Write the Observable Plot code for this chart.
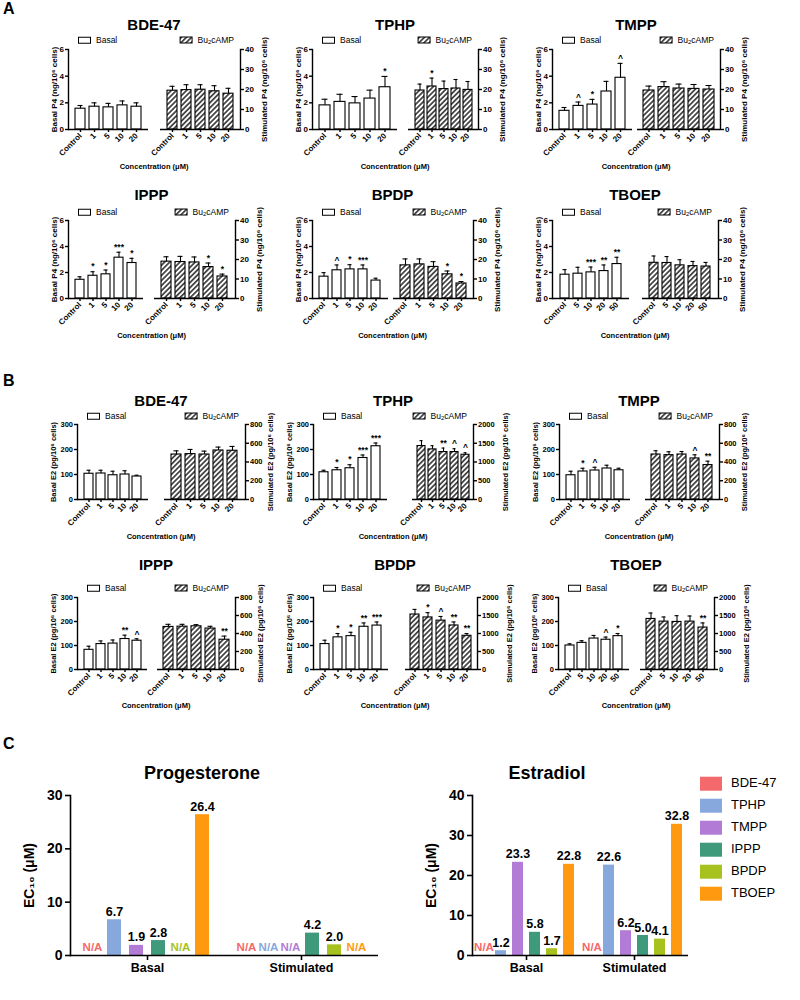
<!DOCTYPE html>
<html><head><meta charset="utf-8">
<script src="https://cdn.jsdelivr.net/npm/d3@7"></script>
<script src="https://cdn.jsdelivr.net/npm/@observablehq/plot@0.6"></script>
<style>
body{margin:0;background:#fff;font-family:Arial,"Liberation Sans",Helvetica,sans-serif;color:#000;}
#root{position:relative;width:800px;height:1000px;overflow:hidden;background:#fff;}
.t{position:absolute;white-space:nowrap;line-height:1;}
</style></head><body>
<svg width="0" height="0" style="position:absolute"><defs>
<pattern id="hatch" patternUnits="userSpaceOnUse" width="3.6" height="3.6" patternTransform="rotate(45)">
<rect width="3.6" height="3.6" fill="white"/><line x1="1.8" y1="0" x2="1.8" y2="3.6" stroke="black" stroke-width="1.3"/>
</pattern></defs></svg>
<div id="root"></div>
<script>
// ---------- DATA ----------
const chemicals = ["BDE-47","TPHP","TMPP","IPPP","BPDP","TBOEP"];
const concStd = ["Control","1","5","10","20"];
const concTBOEP = ["Control","5","10","20","50"];

const p4BasalMean = [[1.56,1.71,1.66,1.81,1.71],[1.81,2.07,1.96,2.32,3.17],[1.40,1.77,1.87,2.85,3.88],[1.44,1.75,1.86,3.14,2.73],[1.68,2.17,2.24,2.24,1.38],[1.83,1.91,2.01,2.11,2.65]];
const p4BasalSem = [[0.24,0.29,0.30,0.33,0.29],[0.46,0.57,0.51,0.63,0.81],[0.25,0.29,0.39,0.76,1.08],[0.23,0.31,0.33,0.42,0.36],[0.31,0.41,0.36,0.34,0.18],[0.39,0.49,0.41,0.47,0.52]];
const p4BasalSig = [["","","","",""],["","","","","*"],["","^","*","","^"],["","*","*","***","*"],["","^","*","***",""],["","","***","**","**"]];
const p4StimMean = [[19.4,19.7,19.9,19.1,17.9],[19.5,21.5,20.2,20.5,19.8],[19.5,21.2,20.5,20.3,20.0],[18.9,18.7,18.5,16.1,11.3],[17.0,17.5,16.2,12.4,7.7],[18.3,18.2,17.0,16.6,16.4]];
const p4StimSem = [[2.2,2.7,2.5,2.8,2.7],[3.2,4.2,4.0,4.5,4.2],[2.2,2.7,2.2,2.2,2.0],[2.5,2.9,2.8,2.1,1.2],[3.3,2.8,2.7,1.7,1.0],[3.5,3.3,2.9,2.4,2.1]];
const p4StimSig = [["","","","",""],["","*","","",""],["","","","",""],["","","","*","*"],["","","","*","*"],["","","","",""]];

const e2BasalMean = [[103,104,97,100,92],[109,117,125,166,213],[97,112,116,124,117],[82,106,108,127,120],[106,134,139,178,183],[100,111,129,124,139]];
const e2BasalSem = [[14,13,16,15,5],[8,11,14,12,13],[16,13,13,13,8],[15,13,15,16,8],[16,16,16,16,15],[7,9,13,11,11]];
const e2BasalSig = [["","","","",""],["","*","*","***","***"],["","*","^","",""],["","","","**","^"],["","*","*","**","***"],["","","","^","*"]];
const e2StimMean = [[480,484,480,523,520],[1426,1336,1265,1265,1193],[480,473,480,438,367],[473,476,480,455,331],[1527,1446,1357,1223,937],[1404,1330,1321,1330,1165]];
const e2StimSem = [[39,50,36,36,46],[144,99,107,89,54],[40,36,32,39,42],[29,26,18,25,40],[143,134,116,98,63],[165,129,174,156,129]];
const e2StimSig = [["","","","",""],["","","**","^","^"],["","","","^","**"],["","","","","**"],["","*","^","**","**"],["","","","","**"]];

const p4BasalTicks = [0,2,4,6];
const p4StimTicks = [0,10,20,30,40];
const e2BasalTicks = [0,100,200,300];
const e2StimTicksLow = [0,200,400,600,800];
const e2StimTicksHigh = [0,500,1000,1500,2000];
const e2StimScale = ["low","high","low","low","high","high"];

const ec10Groups = ["Basal","Stimulated"];
const progBasal = [null,6.7,1.9,2.8,null,26.4];
const progStim = [null,null,null,4.2,2.0,null];
const estrBasal = [null,1.2,23.3,5.8,1.7,22.8];
const estrStim = [null,22.6,6.2,5.0,4.1,32.8];
const ec10Colors = ["#F4696B","#86A8DC","#B27CD6","#3F9A7C","#A7C21F","#FF9A10"];

// ---------- LAYOUT ----------
const FONT = 'Arial, "Liberation Sans", Helvetica, sans-serif';
const root = document.getElementById("root");
// per chemical: [left axis x, basal axis end, stim axis start, right axis x]
const layoutA = [[68,148,160,240],[312,397,408,478],[552,632,637,720],[68,143,154,235],[312,388,393,473],[552,629,642,718]];
const layoutB = [[77,148,164,245],[313,387,412,473],[559,630,645,719],[77,147,157,235],[313,388,405,477],[558,629,640,714]];
const rowsA = [{title:24,legend:40,top:49,zero:129,conc:167},{title:194,legend:212,top:220,zero:298,conc:336}];
const rowsB = [{title:400,legend:416,top:424,zero:499,conc:537},{title:564,legend:588,top:597,zero:669,conc:706}];

function txt(html, x, y, {size=8, weight="bold", anchor="middle", color="#000", rotate=0}={}) {
  const d = document.createElement("div");
  d.className = "t";
  d.innerHTML = html;
  const tx = anchor==="middle" ? "-50%" : anchor==="end" ? "-100%" : "0";
  d.style.cssText += `left:${x}px;top:${y}px;font-size:${size}px;font-weight:${weight};color:${color};transform:translate(${tx},-50%)` + (rotate?` rotate(${rotate}deg)`:"") + ";";
  root.appendChild(d);
  return d;
}

function place(plot, left, top) {
  plot.style.position = "absolute";
  plot.style.left = left + "px";
  plot.style.top = top + "px";
  root.appendChild(plot);
}

function barPlot({cats, means, sems, sigs, max, ticks, side, x0, x1, top, zero, hatch, label, labelOffset, yFont}) {
  const data = cats.map((c,i)=>({c, m:means[i], e:means[i]+sems[i], s:sigs[i]}));
  const mL = side==="left" ? 40 : 2, mR = side==="right" ? 40 : 2, mT = 14, mB = 40;
  const plot = Plot.plot({
    width: (x1-x0)+mL+mR, height: (zero-top)+mT+mB,
    marginLeft: mL, marginRight: mR, marginTop: mT, marginBottom: mB,
    style: {fontFamily: FONT, fontSize: "8px", fontWeight: "bold", color: "#000", background: "transparent", overflow: "visible", maxWidth: "none"},
    x: {domain: cats, paddingInner: 0.28, paddingOuter: 0.4, axis: null, label: null},
    y: {domain: [0, max], axis: null, label: null},
    marks: [
      Plot.barY(data, {x:"c", y:"m", fill: hatch ? "url(#hatch)" : "white", stroke:"black", strokeWidth:1.1}),
      Plot.ruleX(data, {x:"c", y1:"m", y2:"e", stroke:"black", strokeWidth:1.1}),
      Plot.tickY(data, {x:"c", y:"e", insetLeft:2.5, insetRight:2.5, stroke:"black", strokeWidth:1.1}),
      Plot.text(data, {x:"c", y:"e", text:"s", dy:-5, fontSize:8.5, fontWeight:"bold", fill:"black"}),
      Plot.ruleY([0], {stroke:"black", strokeWidth:1.4}),
      Plot.frame({anchor: side, stroke:"black", strokeWidth:1.4}),
      Plot.axisY(ticks, {anchor: side, tickSize:3, tickPadding:1.5, strokeWidth:1.4, tickFormat: d => String(d), label, labelAnchor:"center", labelOffset, labelArrow:"none", fontSize:yFont}),
      Plot.axisX({anchor:"bottom", tickRotate:-45, tickSize:3, tickPadding:2, strokeWidth:1.4, label:null, fontSize:8})
    ]
  });
  place(plot, x0-mL, top-mT);
}

function legendBox(hatch) {
  return `<svg width="13" height="7" style="vertical-align:middle;margin-right:5px;overflow:visible"><rect x="0.5" y="0.5" width="12" height="6" fill="${hatch?"url(#hatch)":"white"}" stroke="black" stroke-width="1"/></svg>`;
}

function panel(i, layout, row, hormone) {
  const [axL, bEnd, sStart, axR] = layout;
  const cats = chemicals[i]==="TBOEP" ? concTBOEP : concStd;
  const isP4 = hormone==="P4";
  txt(chemicals[i], (axL+axR)/2, row.title, {size:15});
  txt(legendBox(false)+"Basal", axL+10, row.legend, {size:8.5, weight:"normal", anchor:"start"});
  txt(legendBox(true)+"Bu<sub style='font-size:6px;vertical-align:-1px'>2</sub>cAMP", axR-6, row.legend, {size:8.5, weight:"normal", anchor:"end"});
  txt("Concentration (μM)", (axL+axR)/2, row.conc, {size:7.5});
  const high = e2StimScale[i]==="high";
  barPlot({cats, side:"left", x0:axL, x1:bEnd, top:row.top, zero:row.zero, hatch:false,
    means: isP4 ? p4BasalMean[i] : e2BasalMean[i],
    sems: isP4 ? p4BasalSem[i] : e2BasalSem[i],
    sigs: isP4 ? p4BasalSig[i] : e2BasalSig[i],
    max: isP4 ? 6 : 300, ticks: isP4 ? p4BasalTicks : e2BasalTicks,
    label: isP4 ? "Basal P4 (ng/10⁶ cells)" : "Basal E2 (pg/10⁶ cells)",
    labelOffset: isP4 ? 17 : 27, yFont: isP4 ? 8 : 7.5});
  barPlot({cats, side:"right", x0:sStart, x1:axR, top:row.top, zero:row.zero, hatch:true,
    means: isP4 ? p4StimMean[i] : e2StimMean[i],
    sems: isP4 ? p4StimSem[i] : e2StimSem[i],
    sigs: isP4 ? p4StimSig[i] : e2StimSig[i],
    max: isP4 ? 40 : (high ? 2000 : 800),
    ticks: isP4 ? p4StimTicks : (high ? e2StimTicksHigh : e2StimTicksLow),
    label: isP4 ? "Stimulated P4 (ng/10⁶ cells)" : "Stimulated E2 (pg/10⁶ cells)",
    labelOffset: isP4 ? 26 : (high ? 34 : 27), yFont: isP4 ? 8 : 7.5});
}

txt("A", 3, 9, {size:16, anchor:"start"});
txt("B", 3, 381, {size:16, anchor:"start"});
txt("C", 3, 744, {size:16, anchor:"start"});

chemicals.forEach((c,i) => {
  panel(i, layoutA[i], rowsA[Math.floor(i/3)], "P4");
  panel(i, layoutB[i], rowsB[Math.floor(i/3)], "E2");
});

// ---------- PANEL C ----------
function ecPlot({basal, stim, max, ticks, x0, x1, top, zero, pIn, pOut, title, titleX}) {
  const rows = [];
  ec10Groups.forEach((g,gi) => chemicals.forEach((c,ci) => rows.push({g, c, v: (gi ? stim : basal)[ci]})));
  const present = rows.filter(d => d.v != null);
  const missing = rows.filter(d => d.v == null);
  const mL = 48, mR = 10, mT = 12, mB = 28;
  const plot = Plot.plot({
    width: (x1-x0)+mL+mR, height: (zero-top)+mT+mB,
    marginLeft: mL, marginRight: mR, marginTop: mT, marginBottom: mB,
    style: {fontFamily: FONT, fontSize: "13px", fontWeight: "bold", color: "#000", background: "transparent", overflow: "visible", maxWidth: "none"},
    fx: {domain: ec10Groups, padding: 0, axis: null, label: null},
    x: {domain: chemicals, paddingInner: pIn, paddingOuter: pOut, axis: null, label: null},
    y: {domain: [0, max], axis: null, label: null},
    color: {domain: chemicals, range: ec10Colors},
    marks: [
      Plot.barY(present, {fx:"g", x:"c", y:"v", fill:"c"}),
      Plot.text(present, {fx:"g", x:"c", y:"v", text: d => d.v.toFixed(1), dy:-8, fontSize:12.5, fontWeight:"bold", fill:"black"}),
      Plot.text(missing, {fx:"g", x:"c", y: () => 0, text: () => "N/A", fill:"c", dy:-8, fontSize:11.5, fontWeight:"bold"}),
      Plot.ruleY([0], {stroke:"black", strokeWidth:1.6}),
      Plot.frame({anchor:"left", facetAnchor:"left", stroke:"black", strokeWidth:1.6}),
      Plot.axisY(ticks, {anchor:"left", tickSize:5, tickPadding:3, strokeWidth:1.6, label:"EC₁₀ (μM)", labelAnchor:"center", labelOffset:46, labelArrow:"none", fontSize:14}),
      Plot.axisFx({anchor:"bottom", tickSize:5, tickPadding:3, strokeWidth:1.6, label:null, fontSize:12.5})
    ]
  });
  place(plot, x0-mL, top-mT);
  txt(title, titleX, 773, {size:18});
}

ecPlot({basal: progBasal, stim: progStim, max: 30, ticks: [0,10,20,30], x0: 70, x1: 378, top: 795, zero: 955, pIn: 0.36, pOut: 0.6, title: "Progesterone", titleX: 202});
ecPlot({basal: estrBasal, stim: estrStim, max: 40, ticks: [0,10,20,30,40], x0: 472, x1: 688, top: 795, zero: 955, pIn: 0.35, pOut: 0.35, title: "Estradiol", titleX: 547});

chemicals.forEach((c,i) => {
  const sw = `<span style="display:inline-block;width:22px;height:14px;background:${ec10Colors[i]};vertical-align:middle;margin-right:9px"></span>`;
  txt(sw + c, 700, 783 + 22*i, {size:13, weight:"normal", anchor:"start"});
});
</script>
</body></html>
